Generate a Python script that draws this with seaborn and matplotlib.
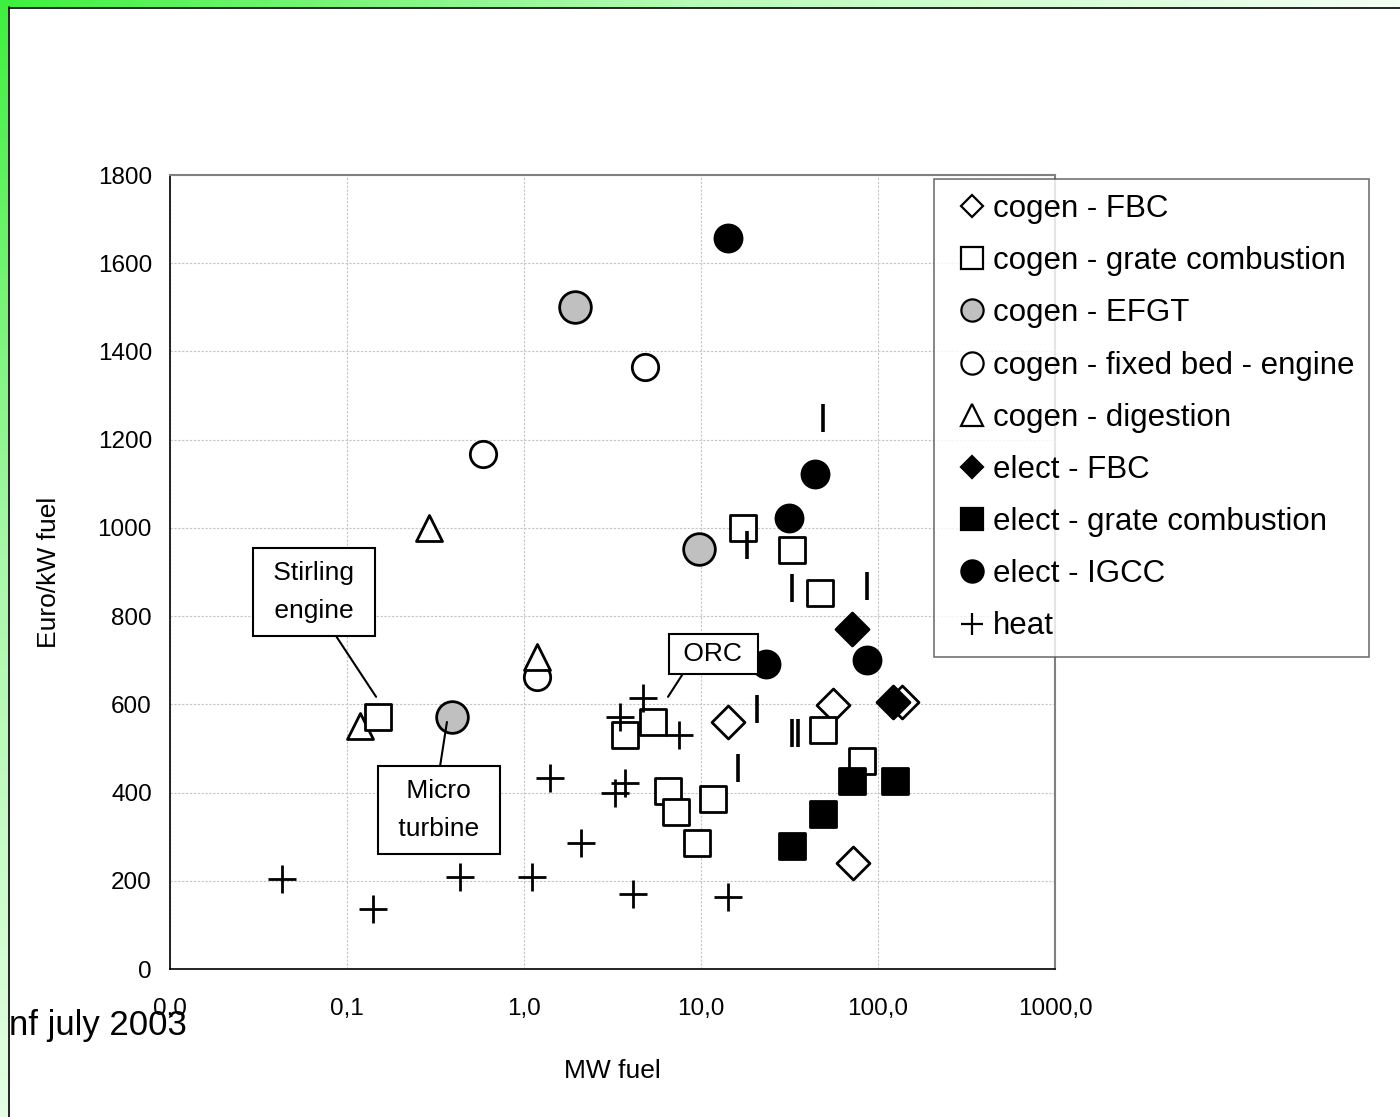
import numpy as np
import pandas as pd
import matplotlib
matplotlib.use("Agg")
import matplotlib.pyplot as plt
from matplotlib.lines import Line2D
from matplotlib import font_manager
import seaborn as sns

# ---- data (x = MW fuel, y = Euro/kW fuel) ----
cogen_fbc_x = [14.2, 55.7, 136.7, 72.2]
cogen_fbc_y = [560, 598, 605, 240]

cogen_grate_x = [0.150, 3.72, 5.36, 6.51, 7.22, 9.49, 11.7, 17.3, 32.7, 47.0, 48.9, 81.2]
cogen_grate_y = [571, 530, 560, 404, 356, 286, 385, 1000, 950, 852, 542, 472]

cogen_efgt_x = [1.95, 9.74, 0.392]
cogen_efgt_y = [1500, 952, 571]

cogen_fixed_x = [4.83, 0.587, 1.18]
cogen_fixed_y = [1365, 1168, 662]

cogen_digest_x = [0.29, 0.118, 1.18]
cogen_digest_y = [1000, 552, 707]

elect_fbc_x = [121.5, 71.3]
elect_fbc_y = [605, 771]

elect_grate_x = [71.3, 124.7, 48.9, 32.7]
elect_grate_y = [426, 426, 351, 279]

elect_igcc_x = [14.2, 44.1, 31.4, 23.3, 86.7]
elect_igcc_y = [1657, 1122, 1022, 691, 700]

heat_x = [0.0429, 0.140, 0.435, 1.11, 1.40, 2.10, 3.27, 3.72, 3.49, 4.70, 7.51, 4.13, 14.2]
heat_y = [204, 136, 209, 209, 433, 286, 399, 422, 571, 614, 530, 170, 163]

# vertical dash markers, no legend entry
other_x = [48.9, 18.2, 32.7, 86.7, 20.7, 32.7, 35.3, 16.2]
other_y = [1249, 961, 864, 868, 589, 535, 535, 456]

x_ticks = [0.01, 0.1, 1, 10, 100, 1000]
x_tick_labels = ["0,0", "0,1", "1,0", "10,0", "100,0", "1000,0"]
y_ticks = list(range(0, 2000, 200))

sns.set_style("white")
names = {f.name for f in font_manager.fontManager.ttflist}
NARROW = "Liberation Sans Narrow" if "Liberation Sans Narrow" in names else "Liberation Sans"
plt.rcParams["font.family"] = ["Liberation Sans", "DejaVu Sans"]
plt.rcParams["text.color"] = "black"
plt.rcParams["axes.labelcolor"] = "black"
plt.rcParams["xtick.color"] = "black"
plt.rcParams["ytick.color"] = "black"

W, H = 1400, 1117
fig = plt.figure(figsize=(14, 11.17), dpi=100)
fig.patch.set_facecolor("white")

# slide frame: green gradients on top and left edge
top = fig.add_axes([0, 1 - 7 / H, 1, 7 / H])
top.imshow(np.linspace(0, 1, 256)[None, :], aspect="auto",
           cmap=matplotlib.colors.LinearSegmentedColormap.from_list("g1", ["#3ef03e", "#b8fbb8", "#f4fff4"]))
top.axis("off")
left = fig.add_axes([0, 0, 8 / W, 1])
left.imshow(np.linspace(0, 1, 256)[:, None], aspect="auto",
            cmap=matplotlib.colors.LinearSegmentedColormap.from_list("g2", ["#3ef03e", "#a8f8a8", "#e4ffe4"]))
left.axis("off")
fig.add_artist(Line2D([8.5 / W, 8.5 / W], [0, 1 - 7 / H], color="black", lw=1.2))
fig.add_artist(Line2D([8.5 / W, 1], [1 - 7.5 / H, 1 - 7.5 / H], color="black", lw=1.2))

ax = fig.add_axes([170 / W, 148 / H, 885 / W, 794 / H])


def draw(xs, ys, marker, face, size, lw=2.0):
    df = pd.DataFrame({"x": xs, "y": ys})
    sns.scatterplot(data=df, x="x", y="y", ax=ax, marker=marker, color=face,
                    edgecolor="black", s=size, linewidth=lw, legend=False, zorder=3)


draw(cogen_fbc_x, cogen_fbc_y, "D", "white", 282)
draw(elect_fbc_x, elect_fbc_y, "D", "black", 282)
draw(cogen_efgt_x, cogen_efgt_y, "o", "#c0c0c0", 520)
draw(cogen_fixed_x, cogen_fixed_y, "o", "white", 360)
draw(cogen_digest_x, cogen_digest_y, "^", "white", 350)
draw(cogen_grate_x, cogen_grate_y, "s", "white", 350)
draw(elect_grate_x, elect_grate_y, "s", "black", 350)
draw(elect_igcc_x, elect_igcc_y, "o", "black", 380)
sns.scatterplot(x=heat_x, y=heat_y, ax=ax, marker="+", color="black", s=378,
                linewidth=2.0, legend=False, zorder=3)
sns.scatterplot(x=other_x, y=other_y, ax=ax, marker="|", color="black", s=378,
                linewidth=2.6, legend=False, zorder=3)

ax.set_xscale("log")
ax.set_xlim(0.01, 1000)
ax.set_ylim(0, 1800)
ax.set_xticks(x_ticks, x_tick_labels)
ax.set_yticks(y_ticks)
ax.minorticks_off()
ax.grid(True, color="#c4c4c4", linestyle=(0, (2, 1.5)), linewidth=0.8)
ax.set_axisbelow(True)
for s in ["top", "right"]:
    ax.spines[s].set_color("#808080")
    ax.spines[s].set_linewidth(1.5)
for s in ["left", "bottom"]:
    ax.spines[s].set_color("black")
    ax.spines[s].set_linewidth(1.2)
ax.tick_params(axis="both", direction="out", length=5, width=1.1, color="black",
               labelsize=17.5, labelcolor="black")
ax.tick_params(axis="x", pad=16)
ax.tick_params(axis="y", pad=8)
ax.set_xlabel("MW fuel", fontsize=19, family=NARROW, labelpad=28)
ax.set_ylabel("Euro/kW fuel", fontsize=19, family=NARROW, labelpad=26)

box = dict(boxstyle="square,pad=0.5", facecolor="white", edgecolor="black", linewidth=1.5)
arrow = dict(arrowstyle="-", color="black", lw=1.5, shrinkA=0, shrinkB=0)
ax.annotate(" Stirling \n engine ", xy=(0.146, 617), xytext=(0.0651, 855),
            ha="center", va="center", fontsize=19, linespacing=1.74, bbox=box,
            arrowprops=dict(arrow, relpos=(0.64, 0.0)), zorder=6)
ax.annotate(" Micro \n turbine ", xy=(0.367, 560), xytext=(0.331, 360),
            ha="center", va="center", fontsize=19, linespacing=1.74, bbox=box,
            arrowprops=dict(arrow, relpos=(0.49, 1.0)), zorder=6)
ax.annotate(" ORC ", xy=(6.51, 617), xytext=(11.7, 715),
            ha="center", va="center", fontsize=19,
            bbox=dict(box, boxstyle="square,pad=0.3"),
            arrowprops=dict(arrow, relpos=(0.16, 0.0)), zorder=6)

# legend
labels = ["cogen - FBC", "cogen - grate combustion", "cogen - EFGT",
          "cogen - fixed bed - engine", "cogen - digestion", "elect - FBC",
          "elect - grate combustion", "elect - IGCC", "heat"]
specs = [("D", "white", 11.6), ("s", "white", 16), ("o", "#c0c0c0", 16),
         ("o", "white", 16), ("^", "white", 16), ("D", "black", 11.6),
         ("s", "black", 16), ("o", "black", 16), ("+", "black", 16.5)]
handles = [Line2D([], [], linestyle="none", marker=m, markerfacecolor=f,
                  markeredgecolor="black", color="black", markersize=ms, markeredgewidth=1.6)
           for m, f, ms in specs]
leg = fig.legend(handles, labels, loc="upper left", bbox_to_anchor=(934 / W, 1 - 179 / H),
                 fontsize=22.5, frameon=True, fancybox=False, borderpad=0.48,
                 labelspacing=0.71, handlelength=1.5, handletextpad=-0.1,
                 borderaxespad=0)
leg.get_frame().set_edgecolor("#505050")
leg.get_frame().set_linewidth(1.2)

fig.text(9 / W, 1 - 1035 / H, "nf july 2003", fontsize=27 if NARROW != "Liberation Sans" else 25,
         family=NARROW, va="baseline", ha="left")

fig.savefig("out.png", dpi=100)
